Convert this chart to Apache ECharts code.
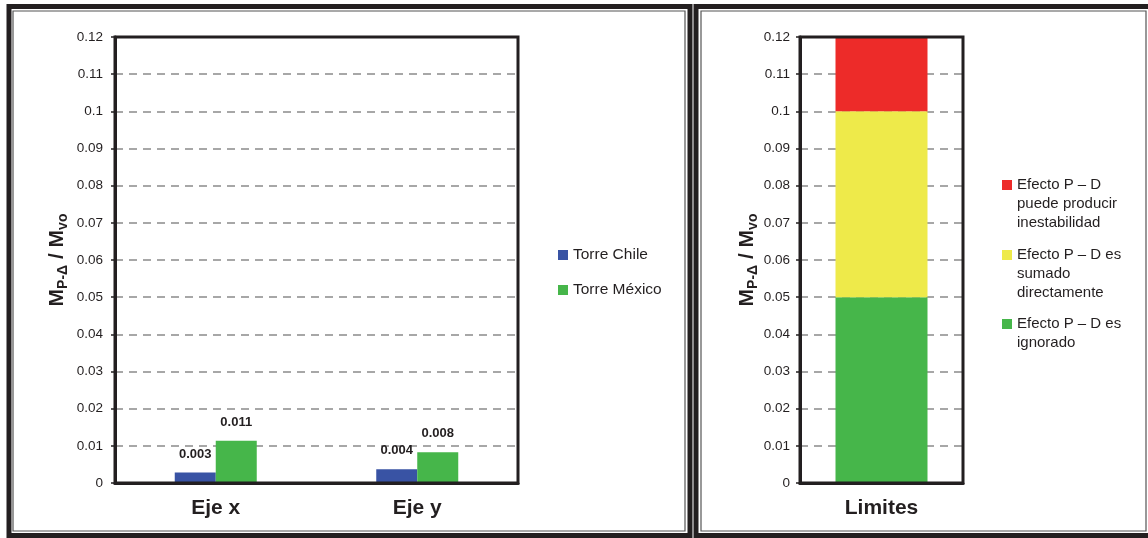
<!DOCTYPE html>
<html>
<head>
<meta charset="utf-8">
<script src="https://cdn.jsdelivr.net/npm/echarts@6/dist/echarts.min.js"></script>
<style>
  html, body { margin: 0; padding: 0; background: #fff; }
  #main { width: 1148px; height: 538px; }
</style>
</head>
<body>
<div id="main"></div>
<script>
// datos
var categories = ['Eje x', 'Eje y'];
var chileValues = [0.0028, 0.0037];
var mexicoValues = [0.0114, 0.0083];
var limitCategory = ['Limites'];
var greenLimit = [0.05];
var yellowLimit = [0.05];
var redLimit = [0.02];
var nameRed = 'Efecto P – D\npuede producir\ninestabilidad';
var nameYellow = 'Efecto P – D es\nsumado\ndirectamente';
var nameGreen = 'Efecto P – D es\nignorado';

var FONT = 'Arial, "Liberation Sans", sans-serif';
var INK = '#231f20';
var LINE_H = 19;

var chart = echarts.init(document.getElementById('main'));

function yAxisFor(gridIndex, gap, labelMargin) {
  return {
    type: 'value',
    gridIndex: gridIndex,
    min: 0,
    max: 0.12,
    interval: 0.01,
    name: '{m|M}{s|P-Δ}{m| / M}{s|vo}',
    nameLocation: 'middle',
    nameGap: gap,
    nameRotate: 90,
    nameTextStyle: {
      rich: {
        m: { fontFamily: FONT, fontSize: 21, fontWeight: 'bold', color: INK, lineHeight: 26 },
        s: { fontFamily: FONT, fontSize: 14, fontWeight: 'bold', color: INK, lineHeight: 14, verticalAlign: 'bottom' }
      }
    },
    axisLine: { show: true, lineStyle: { color: INK, width: 3 } },
    axisTick: { show: true, length: 4, lineStyle: { color: INK, width: 1.5 } },
    axisLabel: {
      color: INK, fontFamily: FONT, fontSize: 13.5, margin: labelMargin,
      formatter: function (v) { return String(+v.toFixed(2)); }
    },
    splitLine: { show: true, lineStyle: { color: '#8a8a8a', width: 1.5, type: [8, 6] } }
  };
}

function xAxisFor(gridIndex, data) {
  return {
    type: 'category',
    gridIndex: gridIndex,
    data: data,
    axisLine: { show: true, lineStyle: { color: INK, width: 3 } },
    axisTick: { show: false },
    axisLabel: { color: INK, fontFamily: FONT, fontSize: 21, fontWeight: 'bold', margin: 15 }
  };
}

var barLabel = {
  show: true,
  position: 'top',
  distance: 12,
  color: INK,
  fontFamily: FONT,
  fontSize: 13,
  fontWeight: 'bold',
  formatter: function (p) { return p.value.toFixed(3); }
};

// icono cuadrado alineado con la primera linea del texto
function topSquare(lines) {
  var h = lines * LINE_H;
  var y0 = (LINE_H - 10) / 2;
  return 'path://M0,0L10,0M0,' + y0 + 'H10V' + (y0 + 10) + 'H0Z M0,' + h + 'L10,' + h;
}

function limitLegend(name, top, lines) {
  return {
    data: [name],
    left: 1002,
    top: top,
    padding: 0,
    itemWidth: 10,
    itemHeight: lines * LINE_H,
    icon: topSquare(lines),
    textStyle: { color: INK, fontFamily: FONT, fontSize: 15, lineHeight: LINE_H }
  };
}

var option = {
  backgroundColor: '#fff',
  animation: false,
  graphic: [
    { type: 'rect', shape: { x: 9, y: 6.5, width: 681, height: 529 }, style: { fill: 'none', stroke: INK, lineWidth: 5 } },
    { type: 'rect', shape: { x: 13, y: 11, width: 672, height: 520 }, style: { fill: 'none', stroke: '#555', lineWidth: 1.2 } },
    { type: 'rect', shape: { x: 696, y: 6.5, width: 460, height: 529 }, style: { fill: 'none', stroke: INK, lineWidth: 5 } },
    { type: 'rect', shape: { x: 701, y: 11, width: 445, height: 520 }, style: { fill: 'none', stroke: '#555', lineWidth: 1.2 } }
  ],
  grid: [
    { left: 115, top: 37, width: 403, height: 446, show: true, z: 3, borderColor: INK, borderWidth: 3, backgroundColor: 'transparent' },
    { left: 800, top: 37, width: 163, height: 446, show: true, z: 3, borderColor: INK, borderWidth: 3, backgroundColor: 'transparent' }
  ],
  xAxis: [xAxisFor(0, categories), xAxisFor(1, limitCategory)],
  yAxis: [yAxisFor(0, 45, 12), yAxisFor(1, 40, 10)],
  legend: [
    {
      data: ['Torre Chile', 'Torre México'],
      orient: 'vertical',
      left: 558,
      top: 246,
      padding: 0,
      itemGap: 17,
      itemWidth: 10,
      itemHeight: 10,
      icon: 'rect',
      textStyle: { color: INK, fontFamily: FONT, fontSize: 15.5, lineHeight: 18 }
    },
    limitLegend(nameRed, 175.5, 3),
    limitLegend(nameYellow, 245.5, 3),
    limitLegend(nameGreen, 314.5, 2)
  ],
  series: [
    {
      name: 'Torre Chile', type: 'bar', xAxisIndex: 0, yAxisIndex: 0,
      data: chileValues, barWidth: 41, barGap: '0%',
      itemStyle: { color: '#3953a4' }, label: barLabel
    },
    {
      name: 'Torre México', type: 'bar', xAxisIndex: 0, yAxisIndex: 0,
      data: mexicoValues, barWidth: 41, barGap: '0%',
      itemStyle: { color: '#46b64a' }, label: barLabel
    },
    {
      name: nameGreen, type: 'bar', xAxisIndex: 1, yAxisIndex: 1, stack: 'lim',
      data: greenLimit, barWidth: 92, itemStyle: { color: '#46b64a' }
    },
    {
      name: nameYellow, type: 'bar', xAxisIndex: 1, yAxisIndex: 1, stack: 'lim',
      data: yellowLimit, barWidth: 92, itemStyle: { color: '#eeea4a' }
    },
    {
      name: nameRed, type: 'bar', xAxisIndex: 1, yAxisIndex: 1, stack: 'lim',
      data: redLimit, barWidth: 92, itemStyle: { color: '#ed2b29' }
    }
  ]
};

chart.setOption(option);
</script>
</body>
</html>
